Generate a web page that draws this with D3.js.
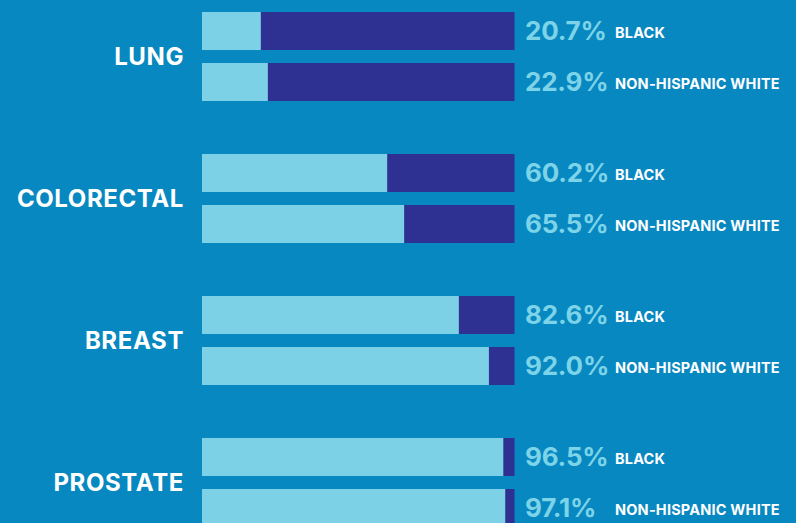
<!DOCTYPE html>
<html>
<head>
<meta charset="utf-8">
<script src="https://cdn.jsdelivr.net/npm/d3@7"></script>
<style>
  html, body { margin: 0; padding: 0; background: #0788c0; }
  svg { display: block; font-family: 'Inter', 'Lato', sans-serif; }
</style>
</head>
<body>
<svg id="chart" width="796" height="523"></svg>
<script>
// survival rates by cancer type and group
var cancers = ['LUNG', 'COLORECTAL', 'BREAST', 'PROSTATE'];
var groups = ['BLACK', 'NON-HISPANIC WHITE'];
var blackRates = [20.7, 60.2, 82.6, 96.5];
var whiteRates = [22.9, 65.5, 92.0, 97.1];

var rows = [];
cancers.forEach(function (c, i) {
  rows.push({ cancer: c, group: groups[0], value: blackRates[i] });
  rows.push({ cancer: c, group: groups[1], value: whiteRates[i] });
});

var svg = d3.select('#chart'),
    barStart = 202;

// the light share is measured from a zero a bit left of where the bar starts
var x = d3.scaleLinear().domain([0, 100]).range([194.6, 514.5]);
var yGroup = d3.scaleBand().domain(cancers).range([12, 580]);
var yInner = d3.scaleBand().domain(groups).range([0, 89]).paddingInner(0.255);

var g = svg.selectAll('g.cancer').data(cancers).enter().append('g')
  .attr('class', 'cancer')
  .attr('transform', function (d) { return 'translate(0,' + yGroup(d) + ')'; });

g.append('text')
  .attr('x', 184)
  .attr('y', 44.5 + 8.5)
  .attr('text-anchor', 'end')
  .attr('fill', '#fff')
  .attr('font-size', 24)
  .attr('font-weight', 700)
  .attr('letter-spacing', 0.6)
  .text(function (d) { return d; });

var bar = g.selectAll('g.bar')
  .data(function (d) { return rows.filter(function (r) { return r.cancer === d; }); })
  .enter().append('g')
  .attr('class', 'bar')
  .attr('transform', function (d) { return 'translate(0,' + yInner(d.group) + ')'; });

// navy remainder
bar.append('rect')
  .attr('x', barStart)
  .attr('width', x(100) - barStart)
  .attr('height', yInner.bandwidth())
  .attr('fill', '#2e3192');

// light share
bar.append('rect')
  .attr('x', barStart)
  .attr('width', function (d) { return x(d.value) - barStart; })
  .attr('height', yInner.bandwidth())
  .attr('fill', '#7dd1e6');

bar.append('text')
  .attr('x', 525)
  .attr('y', yInner.bandwidth() / 2 + 9)
  .attr('fill', '#7dd3e8')
  .attr('font-size', 26)
  .attr('font-weight', 700)
  .attr('letter-spacing', -0.2)
  .text(function (d) { return d.value.toFixed(1) + '%'; });

bar.append('text')
  .attr('x', 615)
  .attr('y', yInner.bandwidth() / 2 + 7)
  .attr('fill', '#fff')
  .attr('font-size', 14.5)
  .attr('font-weight', 700)
  .attr('letter-spacing', 0.2)
  .text(function (d) { return d.group; });
</script>
</body>
</html>
